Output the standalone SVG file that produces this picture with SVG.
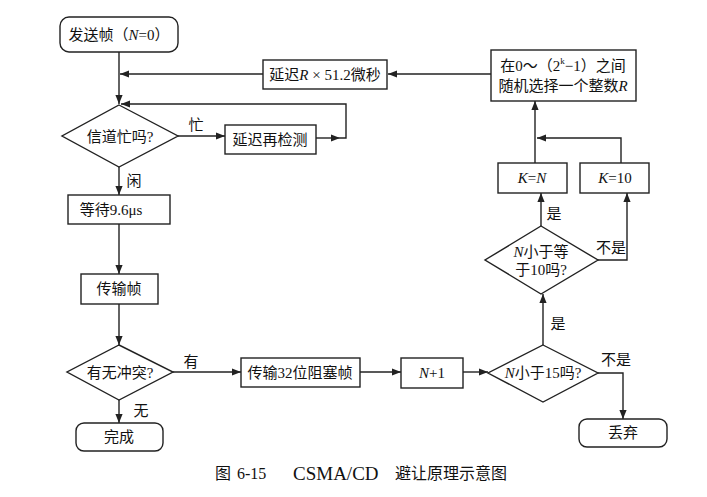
<svg xmlns="http://www.w3.org/2000/svg" width="707" height="497" viewBox="0 0 707 497">
<defs>
<marker id="ah" viewBox="0 0 10 10" refX="10" refY="5" markerWidth="9" markerHeight="9" markerUnits="userSpaceOnUse" orient="auto">
<path d="M0,1 L10,5 L0,9 z" fill="#222"/>
</marker>
<style>
.box{fill:#fff;stroke:#222;stroke-width:1.4}
.ln{fill:none;stroke:#222;stroke-width:1.4;marker-end:url(#ah)}
text{font-family:"Liberation Serif","Noto Sans CJK SC",serif;font-size:15px;fill:#111;text-anchor:middle;dominant-baseline:central}
.i{font-style:italic}
.cap{font-size:16px;text-anchor:start}
</style>
</defs>
<rect width="707" height="497" fill="#fff"/>
<g id="connectors">
<path class="ln" d="M119,52 V104"/>
<path class="ln" d="M491,74 H388"/>
<path class="ln" d="M263,74 H120"/>
<path class="ln" d="M178,136 H225"/>
<path class="ln" d="M316,138 H340"/>
<path class="ln" d="M340,138 H346 V104 H121"/>
<path class="ln" d="M119,167 V195"/>
<path class="ln" d="M119,224 V274"/>
<path class="ln" d="M119,304 V345"/>
<path class="ln" d="M173,372 H241"/>
<path class="ln" d="M119,400 V423"/>
<path class="ln" d="M360,372 H401"/>
<path class="ln" d="M463,372 H488"/>
<path class="ln" d="M543,345 V294"/>
<path class="ln" d="M598,373 H623 V419"/>
<path class="ln" d="M541,226 V193"/>
<path class="ln" d="M598,260 H627 V193"/>
<path class="ln" d="M535,163 V101"/>
<path class="ln" d="M621,163 V138 H537"/>
<text x="196" y="125">忙</text>
<text x="134" y="181">闲</text>
<text x="191" y="362">有</text>
<text x="141" y="411">无</text>
<text x="558" y="324">是</text>
<text x="616" y="360">不是</text>
<text x="554" y="214">是</text>
<text x="611" y="248">不是</text>
</g>
<g id="start">
<rect class="box" x="60" y="17" width="118" height="35" rx="9"/>
<text x="119" y="35">发送帧（<tspan class="i">N</tspan>=0）</text>
</g>
<g id="delayR">
<rect class="box" x="263" y="60" width="124" height="29"/>
<text x="325" y="75" xml:space="preserve">延迟<tspan class="i">R</tspan> × 51.2微秒</text>
</g>
<g id="randomR">
<rect class="box" x="491" y="50" width="145" height="51"/>
<text x="563" y="66">在0～（2<tspan font-size="9" dy="-5">k</tspan><tspan dy="5">−1）之间</tspan></text>
<text x="563" y="86">随机选择一个整数<tspan class="i">R</tspan></text>
</g>
<g id="busy">
<polygon class="box" points="119,105 178,136 119,167 62,136"/>
<text x="120" y="137">信道忙吗?</text>
</g>
<g id="recheck">
<rect class="box" x="225" y="125" width="91" height="29"/>
<text x="270" y="140">延迟再检测</text>
</g>
<g id="wait">
<rect class="box" x="68" y="195" width="102" height="29"/>
<text x="111" y="210">等待9.6μs</text>
</g>
<g id="transmit">
<rect class="box" x="81" y="274" width="77" height="30"/>
<text x="119" y="289">传输帧</text>
</g>
<g id="collision">
<polygon class="box" points="119,345 173,372 119,400 67,372"/>
<text x="120" y="373">有无冲突?</text>
</g>
<g id="done">
<rect class="box" x="76" y="423" width="87" height="28" rx="8"/>
<text x="119" y="437">完成</text>
</g>
<g id="jam">
<rect class="box" x="241" y="358" width="119" height="29"/>
<text x="300" y="373">传输32位阻塞帧</text>
</g>
<g id="inc">
<rect class="box" x="401" y="358" width="62" height="30"/>
<text x="432" y="373"><tspan class="i">N</tspan>+1</text>
</g>
<g id="lt15">
<polygon class="box" points="543,345 598,373 543,402 488,373"/>
<text x="543" y="373"><tspan class="i">N</tspan>小于15吗?</text>
</g>
<g id="discard">
<rect class="box" x="579" y="419" width="88" height="28" rx="8"/>
<text x="623" y="433">丢弃</text>
</g>
<g id="le10">
<polygon class="box" points="541,226 598,260 541,294 485,260"/>
<text x="541" y="252"><tspan class="i">N</tspan>小于等</text>
<text x="541" y="270">于10吗?</text>
</g>
<g id="kN">
<rect class="box" x="498" y="163" width="69" height="30"/>
<text x="532" y="178"><tspan class="i">K</tspan>=<tspan class="i">N</tspan></text>
</g>
<g id="k10">
<rect class="box" x="580" y="163" width="69" height="30"/>
<text x="615" y="178"><tspan class="i">K</tspan>=10</text>
</g>
<g id="caption">
<text class="cap" x="215" y="473">图<tspan x="237">6-15</tspan><tspan x="293" font-size="19">CSMA/CD</tspan><tspan x="395">避让原理示意图</tspan></text>
</g>
</svg>
